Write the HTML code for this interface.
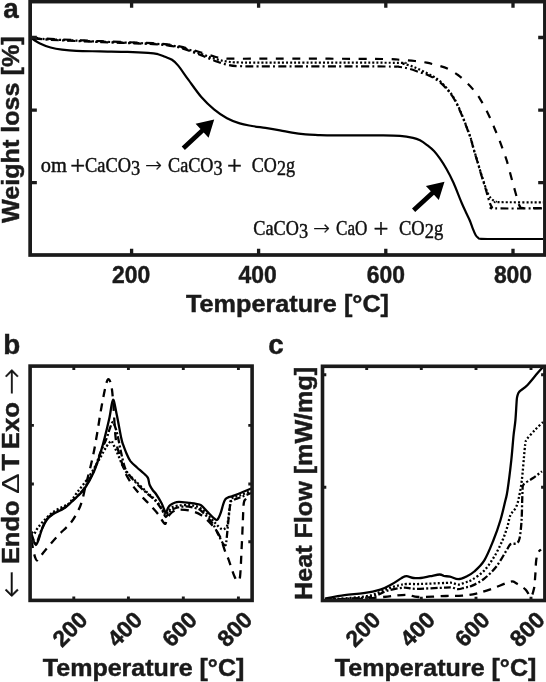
<!DOCTYPE html>
<html lang="en"><head><meta charset="utf-8"><title>TGA / DTA / DSC curves</title>
<style>
html,body{margin:0;padding:0;background:#fff;}
svg{display:block;}
</style></head>
<body>
<svg width="546" height="682" viewBox="0 0 546 682">
<rect width="546" height="682" fill="#fff"/>
<g id="pa">
<path d="M30.5,37.5 C32.1,38.5 36.6,41.8 40.0,43.5 C43.4,45.2 46.9,46.5 50.6,47.5 C54.3,48.5 57.7,49.1 62.0,49.6 C66.3,50.1 70.0,50.5 76.3,50.8 C82.6,51.1 91.5,51.2 100.0,51.4 C108.5,51.6 119.6,51.6 127.6,51.9 C135.6,52.1 142.9,52.5 148.0,52.9 C153.1,53.3 155.2,53.6 158.0,54.2 C160.8,54.9 162.7,55.9 165.0,56.8 C167.3,57.7 169.8,58.4 172.0,59.8 C174.2,61.2 175.2,62.1 178.0,65.4 C180.8,68.8 184.6,74.6 188.5,79.9 C192.4,85.2 197.1,92.1 201.3,97.0 C205.6,101.9 209.7,105.8 214.0,109.3 C218.3,112.8 222.7,115.9 227.0,118.3 C231.3,120.7 235.5,122.1 239.7,123.4 C243.9,124.7 247.7,125.2 252.0,126.0 C256.3,126.8 260.7,127.2 265.4,127.9 C270.1,128.6 275.6,129.5 280.0,130.3 C284.4,131.1 287.7,132.0 292.0,132.7 C296.3,133.4 301.3,134.0 305.6,134.4 C309.9,134.8 313.8,134.9 318.0,135.1 C322.2,135.3 320.2,135.3 331.0,135.4 C341.8,135.5 371.0,135.3 382.5,135.4 C394.0,135.5 394.9,135.5 400.0,135.9 C405.1,136.3 409.7,137.1 413.0,137.8 C416.3,138.5 417.7,139.1 420.0,140.3 C422.3,141.5 424.4,143.0 426.7,144.8 C429.0,146.6 431.8,148.7 434.0,151.0 C436.2,153.3 437.9,155.7 440.0,158.7 C442.1,161.7 444.2,165.0 446.5,169.0 C448.8,173.0 451.0,177.2 453.5,182.8 C456.0,188.4 459.4,197.6 461.5,202.5 C463.6,207.4 464.6,209.4 466.0,212.5 C467.4,215.6 468.9,218.3 470.0,221.0 C471.1,223.7 471.9,226.4 472.8,228.7 C473.7,231.0 474.7,233.5 475.6,235.0 C476.5,236.5 477.1,237.1 478.0,237.7 C478.9,238.3 477.3,238.6 481.0,238.8 C484.7,239.0 489.7,239.0 500.0,239.0 C510.3,239.0 535.8,239.0 543.0,239.0" fill="none" stroke="#000" stroke-width="2.2" stroke-linejoin="round"/>
<path d="M30.5,37.3 C33.9,37.6 38.7,38.2 50.6,38.9 C62.5,39.5 84.9,40.5 102.0,41.2 C119.1,41.9 141.7,42.6 153.0,43.2 C164.3,43.8 165.0,44.1 170.0,44.7 C175.0,45.4 177.8,45.8 183.0,47.1 C188.2,48.4 195.7,50.9 201.0,52.5 C206.3,54.1 211.2,55.7 215.0,56.7 C218.8,57.7 220.7,58.0 224.0,58.3 C227.3,58.6 225.7,58.7 235.0,58.7 C244.3,58.8 255.4,58.6 280.0,58.6 C304.6,58.6 362.5,58.8 382.5,59.0 C402.5,59.2 394.6,59.5 400.0,59.8 C405.4,60.1 410.6,60.5 415.0,61.0 C419.4,61.5 422.9,62.0 426.7,62.7 C430.5,63.5 434.4,64.5 438.0,65.5 C441.6,66.5 444.7,67.3 448.0,68.9 C451.3,70.5 454.9,72.7 458.0,75.0 C461.1,77.3 464.1,80.2 466.8,82.8 C469.5,85.4 471.8,87.8 474.0,90.5 C476.2,93.2 478.0,95.6 480.0,98.8 C482.0,102.0 484.2,106.0 486.0,109.5 C487.8,113.0 489.5,116.7 491.0,120.0 C492.5,123.3 493.7,126.3 495.0,129.5 C496.3,132.7 497.7,135.6 499.0,139.0 C500.3,142.4 501.7,146.3 503.0,150.0 C504.3,153.7 505.5,156.4 507.0,161.4 C508.5,166.4 510.2,173.6 512.0,180.0 C513.8,186.4 516.3,195.7 517.6,200.0 C518.9,204.3 518.8,204.7 519.7,206.0 C520.6,207.3 519.1,207.7 523.0,208.0 C526.9,208.3 539.7,208.0 543.0,208.0" fill="none" stroke="#000" stroke-width="2.2" stroke-dasharray="8 8.5" stroke-linejoin="round"/>
<path d="M30.5,37.8 C33.9,38.1 38.7,38.8 50.6,39.4 C62.5,40.0 84.9,41.0 102.0,41.7 C119.1,42.4 141.7,43.1 153.0,43.7 C164.3,44.3 165.0,44.6 170.0,45.3 C175.0,46.0 177.8,46.5 183.0,47.9 C188.2,49.3 195.7,52.1 201.0,53.9 C206.3,55.7 210.7,57.5 215.0,58.8 C219.3,60.1 222.8,60.9 227.0,61.5 C231.2,62.1 231.2,62.3 240.0,62.5 C248.8,62.7 254.2,62.6 280.0,62.6 C305.8,62.6 374.5,62.6 395.0,62.8 C415.5,63.0 399.7,62.8 403.0,63.6 C406.3,64.4 411.1,65.9 415.0,67.5 C418.9,69.1 423.5,71.4 426.7,73.0 C429.9,74.6 431.8,75.6 434.0,77.0 C436.2,78.4 437.8,79.3 440.0,81.2 C442.2,83.1 444.8,85.8 447.0,88.5 C449.2,91.2 451.5,94.0 453.5,97.3 C455.5,100.5 457.2,104.2 459.0,108.0 C460.8,111.8 462.5,116.2 464.0,120.0 C465.5,123.8 466.8,127.3 468.0,130.5 C469.2,133.7 470.0,135.8 471.0,139.0 C472.0,142.2 472.9,146.3 474.0,150.0 C475.1,153.7 476.2,157.2 477.5,161.4 C478.8,165.6 480.1,170.7 481.5,175.0 C482.9,179.3 484.5,184.3 485.6,187.5 C486.7,190.7 487.2,192.1 488.1,193.9 C489.0,195.7 490.1,197.1 490.9,198.1 C491.7,199.1 492.2,199.6 493.0,200.2 C493.8,200.8 494.8,201.3 495.8,201.6 C496.8,201.9 491.1,202.1 499.0,202.2 C506.9,202.3 535.7,202.3 543.0,202.3" fill="none" stroke="#000" stroke-width="2.2" stroke-dasharray="2 2.1" stroke-linejoin="round"/>
<path d="M30.5,38.0 C33.9,38.3 38.7,39.1 50.6,39.8 C62.5,40.5 84.9,41.4 102.0,42.1 C119.1,42.8 141.7,43.5 153.0,44.1 C164.3,44.7 165.0,45.0 170.0,45.8 C175.0,46.5 177.8,47.0 183.0,48.6 C188.2,50.2 195.7,53.1 201.0,55.2 C206.3,57.3 210.7,59.4 215.0,61.0 C219.3,62.6 222.8,63.7 227.0,64.6 C231.2,65.5 231.2,65.9 240.0,66.2 C248.8,66.5 255.8,66.4 280.0,66.4 C304.2,66.5 365.0,66.4 385.0,66.5 C405.0,66.6 395.8,66.6 400.0,67.0 C404.2,67.4 406.7,68.1 410.0,69.0 C413.3,69.9 417.2,71.4 420.0,72.3 C422.8,73.2 424.4,73.5 426.7,74.5 C429.0,75.5 431.8,76.9 434.0,78.2 C436.2,79.5 437.8,80.4 440.0,82.2 C442.2,84.0 444.8,86.7 447.0,89.3 C449.2,91.9 451.5,94.8 453.5,98.0 C455.5,101.2 457.2,104.9 459.0,108.7 C460.8,112.5 462.5,116.9 464.0,120.6 C465.5,124.3 466.8,127.8 468.0,131.0 C469.2,134.2 470.0,136.2 471.0,139.5 C472.0,142.8 472.9,146.8 474.0,150.5 C475.1,154.2 476.2,157.8 477.5,162.0 C478.8,166.2 480.1,171.1 481.5,175.6 C482.9,180.1 484.5,185.2 485.6,188.8 C486.7,192.4 487.3,194.6 488.0,197.0 C488.7,199.4 489.3,201.8 490.0,203.5 C490.7,205.2 491.2,206.4 492.0,207.2 C492.8,208.0 486.5,208.2 495.0,208.4 C503.5,208.6 535.0,208.4 543.0,208.4" fill="none" stroke="#000" stroke-width="2.2" stroke-dasharray="8 3.2 2 3.3" stroke-dashoffset="12.5" stroke-linejoin="round"/>
<rect x="30.15" y="1.6" width="514.75" height="253.4" fill="none" stroke="#1a1a1a" stroke-width="3.7"/>
<path d="M131.6,255.0 v-6.2 M131.6,1.6 v6.2 M258.6,255.0 v-6.2 M258.6,1.6 v6.2 M385.8,255.0 v-6.2 M385.8,1.6 v6.2 M513.0,255.0 v-6.2 M513.0,1.6 v6.2 M30.15,37.5 h6.7 M544.9,37.5 h-6.7 M30.15,110.2 h6.7 M544.9,110.2 h-6.7 M30.15,182.6 h6.7 M544.9,182.6 h-6.7" stroke="#1a1a1a" stroke-width="3.3" fill="none"/>
</g>
<path d="M184.9,149.9 L203.7,132.5 L208.6,137.7 L214.2,119.5 L195.6,123.8 L200.5,129.0 L181.7,146.5Z" fill="#000"/>
<path d="M415.2,212.0 L434.0,194.7 L438.8,200.0 L444.5,181.8 L425.9,186.0 L430.8,191.3 L412.0,208.6Z" fill="#000"/>
<text x="3.3" y="17.5" font-size="27.8" text-anchor="start" font-family="Liberation Sans, Arial, Helvetica, sans-serif" font-weight="bold" fill="#1a1a1a" stroke="#1a1a1a" stroke-width="0.45">a</text>
<text x="3.2" y="354.0" font-size="27.8" text-anchor="start" font-family="Liberation Sans, Arial, Helvetica, sans-serif" font-weight="bold" fill="#1a1a1a" stroke="#1a1a1a" stroke-width="0.45">b</text>
<text x="268.2" y="354.3" font-size="27.8" text-anchor="start" font-family="Liberation Sans, Arial, Helvetica, sans-serif" font-weight="bold" fill="#1a1a1a" stroke="#1a1a1a" stroke-width="0.45">c</text>
<text x="131.2" y="282.8" font-size="24" text-anchor="middle" font-family="Liberation Sans, Arial, Helvetica, sans-serif" font-weight="bold" fill="#1a1a1a" stroke="#1a1a1a" stroke-width="0.45" textLength="38.2" lengthAdjust="spacingAndGlyphs">200</text>
<text x="257.6" y="282.8" font-size="24" text-anchor="middle" font-family="Liberation Sans, Arial, Helvetica, sans-serif" font-weight="bold" fill="#1a1a1a" stroke="#1a1a1a" stroke-width="0.45" textLength="38.2" lengthAdjust="spacingAndGlyphs">400</text>
<text x="385.8" y="282.8" font-size="24" text-anchor="middle" font-family="Liberation Sans, Arial, Helvetica, sans-serif" font-weight="bold" fill="#1a1a1a" stroke="#1a1a1a" stroke-width="0.45" textLength="38.2" lengthAdjust="spacingAndGlyphs">600</text>
<text x="513" y="282.8" font-size="24" text-anchor="middle" font-family="Liberation Sans, Arial, Helvetica, sans-serif" font-weight="bold" fill="#1a1a1a" stroke="#1a1a1a" stroke-width="0.45" textLength="38.2" lengthAdjust="spacingAndGlyphs">800</text>
<text x="186.0" y="312" font-size="24.4" text-anchor="start" font-family="Liberation Sans, Arial, Helvetica, sans-serif" font-weight="bold" fill="#1a1a1a" stroke="#1a1a1a" stroke-width="0.45" textLength="203" lengthAdjust="spacingAndGlyphs">Temperature [°C]</text>
<g transform="translate(19,223.0) rotate(-90)"><text x="0" y="0" font-size="24" text-anchor="start" font-family="Liberation Sans, Arial, Helvetica, sans-serif" font-weight="bold" fill="#1a1a1a" stroke="#1a1a1a" stroke-width="0.45" textLength="186.6" lengthAdjust="spacingAndGlyphs">Weight loss [%]</text></g>
<text x="40.8" y="171.8" font-size="20.5" text-anchor="start" font-family="Liberation Serif, Times New Roman, serif" fill="#111" stroke="#111" stroke-width="0.45" textLength="26" lengthAdjust="spacingAndGlyphs">om</text>
<text x="70.3" y="175.0" font-size="26.5" text-anchor="start" font-family="Liberation Serif, Times New Roman, serif" fill="#111" stroke="#111" stroke-width="0.4">+</text>
<text x="85.1" y="171.8" font-size="20.5" text-anchor="start" font-family="Liberation Serif, Times New Roman, serif" fill="#111" stroke="#111" stroke-width="0.45" textLength="55.2" lengthAdjust="spacingAndGlyphs">CaCO<tspan dy="3">3</tspan></text>
<text x="145.2" y="172.3" font-size="20" text-anchor="start" font-family="DejaVu Sans Light, DejaVu Sans, sans-serif" font-weight="200" fill="#111" stroke="#111" stroke-width="0.35">→</text>
<text x="168" y="171.8" font-size="20.5" text-anchor="start" font-family="Liberation Serif, Times New Roman, serif" fill="#111" stroke="#111" stroke-width="0.45" textLength="54.6" lengthAdjust="spacingAndGlyphs">CaCO<tspan dy="3">3</tspan></text>
<text x="226.9" y="175.0" font-size="26.5" text-anchor="start" font-family="Liberation Serif, Times New Roman, serif" fill="#111" stroke="#111" stroke-width="0.4">+</text>
<text x="251.8" y="171.8" font-size="20.5" text-anchor="start" font-family="Liberation Serif, Times New Roman, serif" fill="#111" stroke="#111" stroke-width="0.45" textLength="43.2" lengthAdjust="spacingAndGlyphs">CO<tspan dy="3">2</tspan><tspan dy="-3">g</tspan></text>
<text x="253.3" y="234.8" font-size="20.5" text-anchor="start" font-family="Liberation Serif, Times New Roman, serif" fill="#111" stroke="#111" stroke-width="0.45" textLength="54.7" lengthAdjust="spacingAndGlyphs">CaCO<tspan dy="3">3</tspan></text>
<text x="313.3" y="235.3" font-size="20" text-anchor="start" font-family="DejaVu Sans Light, DejaVu Sans, sans-serif" font-weight="200" fill="#111" stroke="#111" stroke-width="0.35">→</text>
<text x="336" y="234.8" font-size="20.5" text-anchor="start" font-family="Liberation Serif, Times New Roman, serif" fill="#111" stroke="#111" stroke-width="0.45" textLength="31.4" lengthAdjust="spacingAndGlyphs">CaO</text>
<text x="373.6" y="238.0" font-size="26.5" text-anchor="start" font-family="Liberation Serif, Times New Roman, serif" fill="#111" stroke="#111" stroke-width="0.4">+</text>
<text x="399" y="234.8" font-size="20.5" text-anchor="start" font-family="Liberation Serif, Times New Roman, serif" fill="#111" stroke="#111" stroke-width="0.45" textLength="44.3" lengthAdjust="spacingAndGlyphs">CO<tspan dy="3">2</tspan><tspan dy="-3">g</tspan></text>
<path d="M31.5,536.0 C31.8,536.8 32.8,539.5 33.5,541.0 C34.2,542.5 35.2,545.2 36.0,545.0 C36.8,544.8 37.5,542.7 38.5,540.0 C39.5,537.3 40.6,532.4 42.0,529.0 C43.4,525.6 45.1,522.0 47.0,519.5 C48.9,517.0 51.0,515.5 53.2,514.0 C55.4,512.5 58.0,511.6 60.0,510.5 C62.0,509.4 63.3,509.0 65.3,507.5 C67.3,506.0 70.0,503.3 72.0,501.5 C74.0,499.7 75.2,498.7 77.3,496.5 C79.4,494.3 82.0,492.6 84.7,488.5 C87.5,484.4 91.2,477.8 93.8,472.0 C96.4,466.2 98.4,459.6 100.2,453.8 C102.0,448.0 103.3,443.3 104.8,437.3 C106.3,431.3 108.0,424.2 109.4,418.0 C110.8,411.8 111.8,400.4 113.0,399.8 C114.2,399.2 115.3,408.1 116.7,414.5 C118.1,420.9 120.2,433.3 121.3,438.3 C122.4,443.3 122.2,442.2 123.1,444.7 C124.0,447.2 125.3,450.8 126.5,453.5 C127.7,456.2 128.7,458.8 130.4,461.1 C132.2,463.4 134.8,465.5 137.0,467.5 C139.2,469.5 141.5,471.3 143.3,473.0 C145.1,474.7 146.7,475.6 147.8,477.6 C148.9,479.6 148.8,482.9 149.7,485.0 C150.6,487.1 151.9,489.0 153.0,490.5 C154.1,492.0 154.6,491.9 156.0,494.0 C157.4,496.1 160.3,500.8 161.6,503.3 C162.9,505.8 163.3,507.4 164.0,509.0 C164.7,510.6 165.1,513.1 165.8,512.9 C166.5,512.7 167.3,509.3 168.0,508.0 C168.7,506.7 169.2,506.0 170.2,505.2 C171.2,504.4 172.5,503.6 174.0,503.0 C175.5,502.4 176.3,501.9 179.0,501.9 C181.7,501.9 187.2,502.7 190.0,503.0 C192.8,503.3 194.2,503.4 196.0,503.8 C197.8,504.2 199.1,503.9 201.0,505.2 C202.9,506.5 205.3,509.6 207.5,511.8 C209.7,514.0 212.4,517.1 214.1,518.4 C215.8,519.7 216.3,520.6 217.4,519.7 C218.5,518.8 219.8,515.4 220.7,512.9 C221.6,510.4 222.3,507.2 223.0,505.0 C223.7,502.8 224.3,500.9 225.1,499.7 C225.9,498.4 226.9,498.1 228.0,497.5 C229.1,496.9 229.6,497.1 231.7,496.4 C233.8,495.6 237.3,494.3 240.5,493.0 C243.7,491.7 249.2,489.2 251.0,488.5" fill="none" stroke="#000" stroke-width="2.3" stroke-linejoin="round"/>
<path d="M31.5,540.0 C31.8,541.4 32.4,545.7 33.0,548.5 C33.6,551.3 34.3,555.0 35.0,557.0 C35.7,559.0 36.2,560.5 37.0,560.5 C37.8,560.5 38.6,558.7 40.0,557.0 C41.4,555.3 42.2,553.9 45.1,550.5 C48.0,547.1 53.0,540.9 57.2,536.4 C61.4,531.9 66.9,527.4 70.3,523.3 C73.7,519.2 75.5,515.7 77.5,512.0 C79.5,508.3 80.7,505.2 82.0,501.0 C83.3,496.8 84.0,492.4 85.3,487.0 C86.6,481.6 88.7,474.3 90.1,468.5 C91.5,462.7 92.6,457.8 93.8,452.0 C95.0,446.2 96.0,439.9 97.1,433.7 C98.2,427.4 99.1,421.1 100.2,414.5 C101.3,407.9 102.8,399.7 103.9,394.3 C105.0,388.9 105.8,384.9 106.6,382.4 C107.4,379.9 108.0,378.9 108.8,379.3 C109.6,379.7 110.5,381.6 111.2,385.0 C111.9,388.4 112.2,390.8 113.0,399.8 C113.8,408.8 114.6,429.4 115.8,439.0 C117.0,448.6 118.9,452.0 120.4,457.5 C121.9,463.0 123.0,467.4 125.0,472.0 C127.0,476.6 130.3,481.8 132.3,485.0 C134.3,488.2 135.1,488.7 137.0,491.0 C138.9,493.3 141.6,496.3 143.8,498.6 C146.0,500.9 147.6,502.4 150.0,505.0 C152.4,507.6 155.6,510.9 158.0,514.0 C160.4,517.1 163.2,523.0 164.7,523.8 C166.2,524.6 166.1,520.6 167.0,519.0 C167.9,517.4 169.0,515.3 170.2,514.0 C171.4,512.7 172.5,511.7 174.0,511.0 C175.5,510.3 176.3,509.7 179.0,509.6 C181.7,509.6 186.3,509.8 190.0,510.7 C193.7,511.6 197.3,512.6 201.0,515.0 C204.7,517.4 208.9,521.5 212.0,525.0 C215.1,528.5 217.4,531.6 219.6,536.0 C221.8,540.4 223.6,547.4 225.1,551.3 C226.6,555.2 227.1,555.5 228.6,559.6 C230.1,563.7 232.8,572.5 234.3,576.0 C235.8,579.5 236.6,580.4 237.6,580.4 C238.6,580.4 239.4,582.0 240.1,576.0 C240.8,570.0 241.3,554.0 241.8,544.7 C242.3,535.4 242.6,527.0 242.9,520.0 C243.2,513.0 243.3,506.5 243.8,503.0 C244.3,499.5 244.8,500.1 246.0,499.0 C247.2,497.9 250.2,496.9 251.0,496.5" fill="none" stroke="#000" stroke-width="2.3" stroke-dasharray="8 6.5" stroke-linejoin="round"/>
<path d="M31.5,534.0 C31.9,535.2 33.2,539.5 34.0,541.0 C34.8,542.5 35.7,543.7 36.5,543.0 C37.3,542.3 38.1,539.4 39.0,537.0 C39.9,534.6 40.7,531.5 42.0,528.5 C43.3,525.5 45.1,521.5 47.0,519.0 C48.9,516.5 51.0,515.0 53.2,513.5 C55.4,512.0 58.0,511.1 60.0,510.0 C62.0,508.9 63.3,508.5 65.3,507.0 C67.3,505.5 70.0,502.8 72.0,501.0 C74.0,499.2 75.2,498.2 77.3,496.0 C79.4,493.8 82.0,491.7 84.7,487.5 C87.5,483.3 91.2,476.8 93.8,471.0 C96.4,465.2 98.1,458.4 100.2,453.0 C102.3,447.6 105.0,442.5 106.6,438.3 C108.2,434.1 108.9,430.8 110.0,428.0 C111.1,425.2 112.1,421.8 113.0,421.8 C113.9,421.8 114.7,425.7 115.5,428.0 C116.3,430.3 116.7,431.5 117.6,435.5 C118.5,439.5 119.8,446.6 121.0,452.0 C122.2,457.4 123.5,464.0 125.0,468.0 C126.5,472.0 128.5,473.9 130.0,476.0 C131.5,478.1 132.3,478.7 134.0,480.5 C135.7,482.3 137.8,484.9 140.0,487.0 C142.2,489.1 144.3,490.9 147.0,493.3 C149.7,495.7 153.5,498.7 156.0,501.5 C158.5,504.3 160.4,507.4 162.0,510.0 C163.6,512.6 164.6,516.7 165.8,517.0 C167.0,517.3 167.5,513.4 169.0,512.0 C170.5,510.6 171.8,509.4 174.6,508.5 C177.3,507.6 182.1,506.4 185.5,506.3 C188.9,506.2 192.4,507.3 195.0,508.0 C197.6,508.7 198.2,508.2 201.0,510.7 C203.8,513.1 209.2,518.8 212.0,522.7 C214.8,526.6 216.2,530.5 218.0,534.0 C219.8,537.5 221.8,541.8 223.0,543.6 C224.2,545.4 224.5,545.2 225.0,545.0 C225.5,544.8 225.6,546.6 226.2,542.5 C226.8,538.4 227.7,527.1 228.4,520.5 C229.1,513.9 229.7,506.5 230.6,503.0 C231.5,499.5 232.4,500.6 234.0,499.7 C235.6,498.8 237.2,498.6 240.0,497.5 C242.8,496.4 249.2,493.8 251.0,493.0" fill="none" stroke="#000" stroke-width="2.3" stroke-dasharray="7 2.2 2 2.2" stroke-linejoin="round"/>
<path d="M31.5,532.0 C31.9,532.3 33.1,534.5 34.0,534.0 C34.9,533.5 35.5,531.1 37.0,529.0 C38.5,526.9 40.4,524.3 43.1,521.5 C45.8,518.7 49.5,514.7 53.2,512.0 C56.9,509.3 62.5,507.1 65.3,505.5 C68.1,503.9 68.0,504.5 70.0,502.3 C72.0,500.1 74.2,496.4 77.3,492.3 C80.3,488.2 84.6,483.1 88.3,477.6 C92.0,472.1 96.2,464.5 99.3,459.3 C102.3,454.1 104.6,449.6 106.6,446.5 C108.6,443.4 110.1,441.5 111.2,441.0 C112.3,440.5 111.9,441.6 113.0,443.7 C114.1,445.8 115.6,449.4 117.6,453.8 C119.6,458.2 122.3,466.0 125.0,470.3 C127.7,474.6 130.3,475.8 134.0,479.5 C137.7,483.2 143.3,488.8 147.0,492.3 C150.7,495.8 153.5,497.7 156.0,500.5 C158.5,503.3 160.4,506.6 162.0,509.0 C163.6,511.4 164.6,514.8 165.8,515.0 C167.0,515.2 167.5,511.9 169.0,510.5 C170.5,509.1 171.1,507.2 174.6,506.3 C178.1,505.4 185.6,504.8 190.0,505.2 C194.4,505.6 197.3,506.1 201.0,508.5 C204.7,510.9 209.3,516.8 212.0,519.5 C214.7,522.2 215.4,523.4 217.0,525.0 C218.6,526.6 220.5,528.7 221.8,529.3 C223.1,529.9 224.1,529.2 225.0,528.5 C225.9,527.8 226.6,528.1 227.3,525.0 C228.1,521.9 228.8,514.0 229.5,509.6 C230.2,505.2 229.9,501.0 231.7,498.6 C233.5,496.2 237.3,496.6 240.5,495.3 C243.7,494.0 249.2,491.7 251.0,491.0" fill="none" stroke="#000" stroke-width="2.3" stroke-dasharray="2 2.1" stroke-linejoin="round"/>
<rect x="30.1" y="366.1" width="222.0" height="234.29999999999995" fill="none" stroke="#1a1a1a" stroke-width="3.6"/>
<path d="M73.8,600.4 v-3.8 M73.8,366.1 v3.8 M128.4,600.4 v-3.8 M128.4,366.1 v3.8 M183.3,600.4 v-3.8 M183.3,366.1 v3.8 M238.4,600.4 v-3.8 M238.4,366.1 v3.8 M30.1,425.4 h3.8 M252.1,425.4 h-3.8 M30.1,484 h3.8 M252.1,484 h-3.8 M30.1,541.7 h3.8 M252.1,541.7 h-3.8" stroke="#1a1a1a" stroke-width="2.9" fill="none"/>
<g transform="translate(89.0,621.4) rotate(-45)"><text x="0" y="0" font-size="22.8" text-anchor="end" font-family="Liberation Sans, Arial, Helvetica, sans-serif" font-weight="bold" fill="#1a1a1a" stroke="#1a1a1a" stroke-width="0.45">200</text></g>
<g transform="translate(143.6,621.4) rotate(-45)"><text x="0" y="0" font-size="22.8" text-anchor="end" font-family="Liberation Sans, Arial, Helvetica, sans-serif" font-weight="bold" fill="#1a1a1a" stroke="#1a1a1a" stroke-width="0.45">400</text></g>
<g transform="translate(198.5,621.4) rotate(-45)"><text x="0" y="0" font-size="22.8" text-anchor="end" font-family="Liberation Sans, Arial, Helvetica, sans-serif" font-weight="bold" fill="#1a1a1a" stroke="#1a1a1a" stroke-width="0.45">600</text></g>
<g transform="translate(253.6,621.4) rotate(-45)"><text x="0" y="0" font-size="22.8" text-anchor="end" font-family="Liberation Sans, Arial, Helvetica, sans-serif" font-weight="bold" fill="#1a1a1a" stroke="#1a1a1a" stroke-width="0.45">800</text></g>
<text x="42.8" y="676.3" font-size="23" text-anchor="start" font-family="Liberation Sans, Arial, Helvetica, sans-serif" font-weight="bold" fill="#1a1a1a" stroke="#1a1a1a" stroke-width="0.45" textLength="201.5" lengthAdjust="spacingAndGlyphs">Temperature [°C]</text>
<g transform="translate(19.3,598) rotate(-90)"><text x="-0.2" y="3.15" font-size="32.8" text-anchor="start" font-family="DejaVu Sans Light, DejaVu Sans, sans-serif" font-weight="200" fill="#111" stroke="#111" stroke-width="0.35">←</text><text x="33.9" y="0" font-size="24" text-anchor="start" font-family="Liberation Sans, Arial, Helvetica, sans-serif" font-weight="bold" fill="#1a1a1a" stroke="#1a1a1a" stroke-width="0.45" textLength="63.6" lengthAdjust="spacingAndGlyphs">Endo</text><text x="104.1" y="0" font-size="24" text-anchor="start" font-family="Liberation Sans, Arial, Helvetica, sans-serif" fill="#1a1a1a" textLength="20.6" lengthAdjust="spacingAndGlyphs">Δ</text><text x="127.4" y="0" font-size="24" text-anchor="start" font-family="Liberation Sans, Arial, Helvetica, sans-serif" font-weight="bold" fill="#1a1a1a" stroke="#1a1a1a" stroke-width="0.45" textLength="16.6" lengthAdjust="spacingAndGlyphs">T</text><text x="148.8" y="0" font-size="24" text-anchor="start" font-family="Liberation Sans, Arial, Helvetica, sans-serif" font-weight="bold" fill="#1a1a1a" stroke="#1a1a1a" stroke-width="0.45" textLength="47.0" lengthAdjust="spacingAndGlyphs">Exo</text><text x="202.8" y="3.15" font-size="32.2" text-anchor="start" font-family="DejaVu Sans Light, DejaVu Sans, sans-serif" font-weight="200" fill="#111" stroke="#111" stroke-width="0.35">→</text></g>
<path d="M325.0,598.6 C328.3,598.0 338.2,596.1 344.6,595.2 C351.0,594.3 357.7,594.1 363.6,593.2 C369.6,592.3 375.5,591.1 380.3,589.6 C385.1,588.1 388.6,585.9 392.2,584.0 C395.8,582.1 399.3,579.3 401.7,578.0 C404.1,576.7 404.5,576.2 406.5,576.2 C408.5,576.2 411.2,577.7 413.6,578.0 C416.0,578.3 418.0,578.3 420.8,578.0 C423.6,577.7 427.1,576.8 430.3,576.2 C433.5,575.6 437.5,574.5 439.8,574.5 C442.1,574.5 442.3,575.6 444.0,576.0 C445.7,576.4 447.6,576.1 450.0,576.6 C452.4,577.1 455.5,579.2 458.2,579.2 C460.9,579.2 463.5,577.9 466.2,576.6 C468.9,575.3 471.3,574.2 474.3,571.5 C477.3,568.8 481.1,565.6 484.3,560.4 C487.5,555.2 490.7,547.0 493.4,540.3 C496.1,533.6 498.5,526.7 500.5,520.0 C502.5,513.3 504.3,504.9 505.5,500.0 C506.7,495.1 506.5,497.0 507.5,490.4 C508.5,483.8 510.3,469.4 511.3,460.2 C512.3,451.0 512.9,441.6 513.6,435.0 C514.3,428.4 514.9,425.9 515.4,420.4 C515.9,414.9 516.3,406.0 516.6,402.0 C516.9,398.0 516.8,398.0 517.3,396.3 C517.8,394.6 517.7,393.5 519.4,391.6 C521.1,389.8 524.3,388.3 527.3,385.2 C530.3,382.1 535.0,376.0 537.6,373.0 C540.2,370.0 542.1,368.0 543.0,367.0" fill="none" stroke="#000" stroke-width="2.3" stroke-linejoin="round"/>
<path d="M325.0,599.3 C329.2,599.1 342.4,598.7 350.0,598.0 C357.6,597.3 364.6,596.8 370.8,595.3 C377.0,593.8 382.6,590.5 387.4,588.8 C392.1,587.1 396.1,586.0 399.3,585.2 C402.5,584.4 403.1,584.2 406.5,584.0 C409.9,583.8 413.4,584.2 420.0,584.0 C426.6,583.8 440.7,583.1 446.0,582.9 C451.3,582.7 450.0,582.5 452.0,582.8 C454.0,583.1 456.0,584.6 458.2,584.6 C460.4,584.6 462.6,583.3 465.0,582.5 C467.4,581.7 469.1,581.6 472.3,579.6 C475.5,577.6 480.6,574.4 484.3,570.5 C488.0,566.6 491.4,561.4 494.4,556.4 C497.4,551.4 500.3,545.3 502.5,540.3 C504.7,535.3 506.2,530.4 507.5,526.2 C508.8,522.0 509.1,518.0 510.5,515.0 C511.9,512.0 514.2,510.7 515.6,508.0 C517.0,505.3 517.6,503.6 518.6,499.0 C519.6,494.4 520.8,488.6 521.8,480.4 C522.8,472.2 524.0,456.1 524.6,450.0 C525.2,443.9 525.0,445.3 525.4,443.5 C525.8,441.7 525.2,441.6 526.8,439.3 C528.4,437.0 532.5,432.6 535.2,429.7 C537.9,426.8 541.7,423.4 543.0,422.2" fill="none" stroke="#000" stroke-width="2.3" stroke-dasharray="2 2.1" stroke-linejoin="round"/>
<path d="M325.0,599.5 C329.2,599.4 342.2,599.1 350.0,598.6 C357.8,598.1 365.8,598.1 372.0,596.8 C378.2,595.5 382.1,592.2 387.4,590.7 C392.7,589.2 399.2,587.9 404.0,587.6 C408.8,587.3 409.0,588.8 416.0,588.8 C423.0,588.8 440.0,587.8 446.0,587.6 C452.0,587.4 450.0,587.2 452.0,587.5 C454.0,587.8 456.0,589.2 458.2,589.2 C460.4,589.2 462.6,588.1 465.0,587.5 C467.4,586.9 469.1,587.1 472.3,585.6 C475.5,584.1 480.3,581.8 484.3,578.6 C488.3,575.4 492.7,571.2 496.4,566.5 C500.1,561.8 504.1,554.1 506.5,550.4 C508.9,546.7 508.8,545.5 510.5,544.3 C512.2,543.1 515.1,544.3 516.6,543.3 C518.1,542.3 518.8,542.2 519.6,538.3 C520.4,534.4 521.2,526.4 521.6,520.0 C522.0,513.6 522.0,504.9 522.2,500.0 C522.4,495.1 522.4,493.0 522.6,490.4 C522.8,487.8 521.9,486.4 523.6,484.4 C525.3,482.4 529.6,480.5 532.7,478.3 C535.8,476.1 540.5,472.5 542.0,471.3" fill="none" stroke="#000" stroke-width="2.3" stroke-dasharray="7 2.2 2 2.2" stroke-linejoin="round"/>
<path d="M325.0,599.6 C330.8,599.5 349.6,599.5 360.0,599.0 C370.4,598.5 379.6,597.3 387.4,596.6 C395.1,595.9 401.3,594.7 406.5,594.8 C411.7,594.9 411.8,596.8 418.4,597.0 C425.0,597.2 438.7,596.2 446.0,596.0 C453.3,595.8 457.1,596.1 462.2,595.7 C467.2,595.3 471.3,594.9 476.3,593.7 C481.3,592.5 486.7,590.6 492.4,588.6 C498.1,586.6 506.5,582.4 510.5,581.6 C514.5,580.8 514.1,582.3 516.6,583.6 C519.1,584.9 523.2,587.4 525.6,589.6 C528.0,591.8 529.3,596.9 530.7,596.7 C532.1,596.5 533.2,592.2 534.0,588.6 C534.8,585.0 534.9,579.7 535.3,575.0 C535.7,570.3 535.7,564.2 536.2,560.4 C536.7,556.6 537.5,554.2 538.3,552.4 C539.1,550.6 540.5,550.0 541.0,549.5" fill="none" stroke="#000" stroke-width="2.3" stroke-dasharray="8 6.5" stroke-linejoin="round"/>
<rect x="322.5" y="366.3" width="222.39999999999998" height="234.2" fill="none" stroke="#1a1a1a" stroke-width="3.6"/>
<path d="M366.7,600.5 v-3.8 M366.7,366.3 v3.8 M421.3,600.5 v-3.8 M421.3,366.3 v3.8 M476.0,600.5 v-3.8 M476.0,366.3 v3.8 M531.0,600.5 v-3.8 M531.0,366.3 v3.8 M322.5,374.7 h3.8 M544.9,374.7 h-3.8 M322.5,487.3 h3.8 M544.9,487.3 h-3.8" stroke="#1a1a1a" stroke-width="2.9" fill="none"/>
<g transform="translate(381.9,621.4) rotate(-45)"><text x="0" y="0" font-size="22.8" text-anchor="end" font-family="Liberation Sans, Arial, Helvetica, sans-serif" font-weight="bold" fill="#1a1a1a" stroke="#1a1a1a" stroke-width="0.45">200</text></g>
<g transform="translate(436.5,621.4) rotate(-45)"><text x="0" y="0" font-size="22.8" text-anchor="end" font-family="Liberation Sans, Arial, Helvetica, sans-serif" font-weight="bold" fill="#1a1a1a" stroke="#1a1a1a" stroke-width="0.45">400</text></g>
<g transform="translate(491.2,621.4) rotate(-45)"><text x="0" y="0" font-size="22.8" text-anchor="end" font-family="Liberation Sans, Arial, Helvetica, sans-serif" font-weight="bold" fill="#1a1a1a" stroke="#1a1a1a" stroke-width="0.45">600</text></g>
<g transform="translate(546.2,621.4) rotate(-45)"><text x="0" y="0" font-size="22.8" text-anchor="end" font-family="Liberation Sans, Arial, Helvetica, sans-serif" font-weight="bold" fill="#1a1a1a" stroke="#1a1a1a" stroke-width="0.45">800</text></g>
<text x="334.8" y="676.3" font-size="23" text-anchor="start" font-family="Liberation Sans, Arial, Helvetica, sans-serif" font-weight="bold" fill="#1a1a1a" stroke="#1a1a1a" stroke-width="0.45" textLength="201.5" lengthAdjust="spacingAndGlyphs">Temperature [°C]</text>
<g transform="translate(311.8,599.9) rotate(-90)"><text x="0" y="0" font-size="24" text-anchor="start" font-family="Liberation Sans, Arial, Helvetica, sans-serif" font-weight="bold" fill="#1a1a1a" stroke="#1a1a1a" stroke-width="0.45" textLength="233" lengthAdjust="spacingAndGlyphs">Heat Flow [mW/mg]</text></g>
</svg>
</body></html>
